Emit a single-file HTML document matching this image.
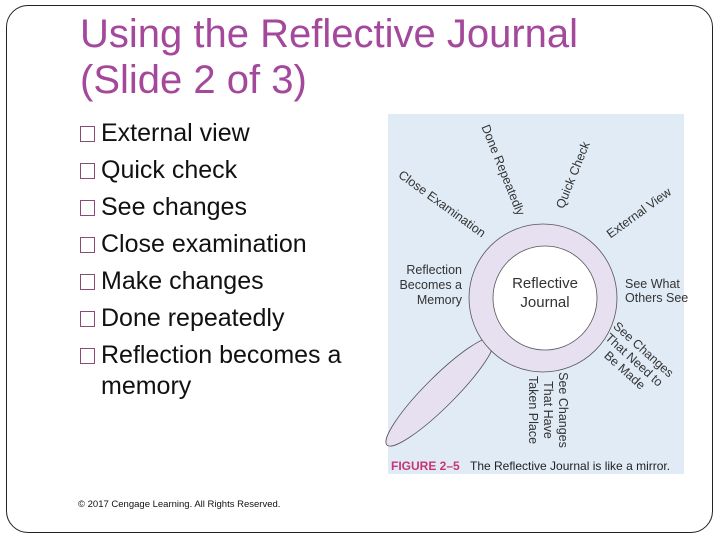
<!DOCTYPE html>
<html><head><meta charset="utf-8"><style>
body{margin:0;width:720px;height:540px;background:#fff;position:relative;overflow:hidden;font-family:"Liberation Sans",Arial,sans-serif}
.frame{position:absolute;left:6px;top:5px;width:707px;height:528px;border:1.3px solid #222;border-radius:22px;box-sizing:border-box}
.t{position:absolute;left:80px;color:#a4489c;font-size:40px;line-height:46px}
.b{position:absolute;left:80px;font-size:25px;color:#111;white-space:nowrap}
.b i{display:inline-block;width:15px;height:16px;border:1.3px solid #8c4a74;box-sizing:border-box;margin-right:6px;vertical-align:-1px}
</style></head><body>
<div class="frame"></div>
<div class="t" style="top:11px">Using the Reflective Journal</div>
<div class="t" style="top:57px">(Slide 2 of 3)</div>
<div class="b" style="top:119px"><i></i>External view</div>
<div class="b" style="top:156px"><i></i>Quick check</div>
<div class="b" style="top:193px"><i></i>See changes</div>
<div class="b" style="top:230px"><i></i>Close examination</div>
<div class="b" style="top:267px"><i></i>Make changes</div>
<div class="b" style="top:304px"><i></i>Done repeatedly</div>
<div class="b" style="top:341px"><i></i>Reflection becomes a</div>
<div class="b" style="top:372px;left:101px">memory</div>
<div style="position:absolute;left:78px;top:499px;font-size:9.5px;color:#111">© 2017 Cengage Learning. All Rights Reserved.</div>
<svg style="position:absolute;left:0;top:0" width="720" height="540" font-family="Liberation Sans, sans-serif">
<rect x="388" y="114" width="296" height="360" fill="#e1ebf6"/>
<ellipse cx="440" cy="392" rx="75" ry="15" transform="rotate(-45 440 392)" fill="#e6e0f0" stroke="#555" stroke-width="0.8"/>
<circle cx="543" cy="298" r="74" fill="#e6e0f0" stroke="#555" stroke-width="0.8"/>
<circle cx="545" cy="298" r="52" fill="#fff" stroke="#555" stroke-width="0.8"/>
<g fill="#333" font-size="12.5" text-anchor="middle">
<text x="545" y="288" font-size="15">Reflective</text>
<text x="545" y="307" font-size="15">Journal</text>
<text transform="translate(503,170) rotate(68)" dy="4">Done Repeatedly</text>
<text transform="translate(573,175) rotate(-68)" dy="4">Quick Check</text>
<text transform="translate(639,213) rotate(-36)" dy="4">External View</text>
<text transform="translate(442,204) rotate(36)" dy="4">Close Examination</text>
<g text-anchor="end"><text x="462" y="274">Reflection</text><text x="462" y="289">Becomes a</text><text x="462" y="304">Memory</text></g>
<g text-anchor="start"><text x="625" y="288">See What</text><text x="625" y="302">Others See</text></g>
<g transform="translate(634,360) rotate(42)"><text y="-10">See Changes</text><text y="4">That Need to</text><text y="18">Be Made</text></g>
<g transform="translate(548,410) rotate(90)"><text y="-11">See Changes</text><text y="4">That Have</text><text y="19">Taken Place</text></g>
</g>
<text x="391" y="470" font-size="12" font-weight="bold" fill="#c83474">FIGURE 2–5</text>
<text x="470" y="470" font-size="12" fill="#222">The Reflective Journal is like a mirror.</text>
</svg>
</body></html>
